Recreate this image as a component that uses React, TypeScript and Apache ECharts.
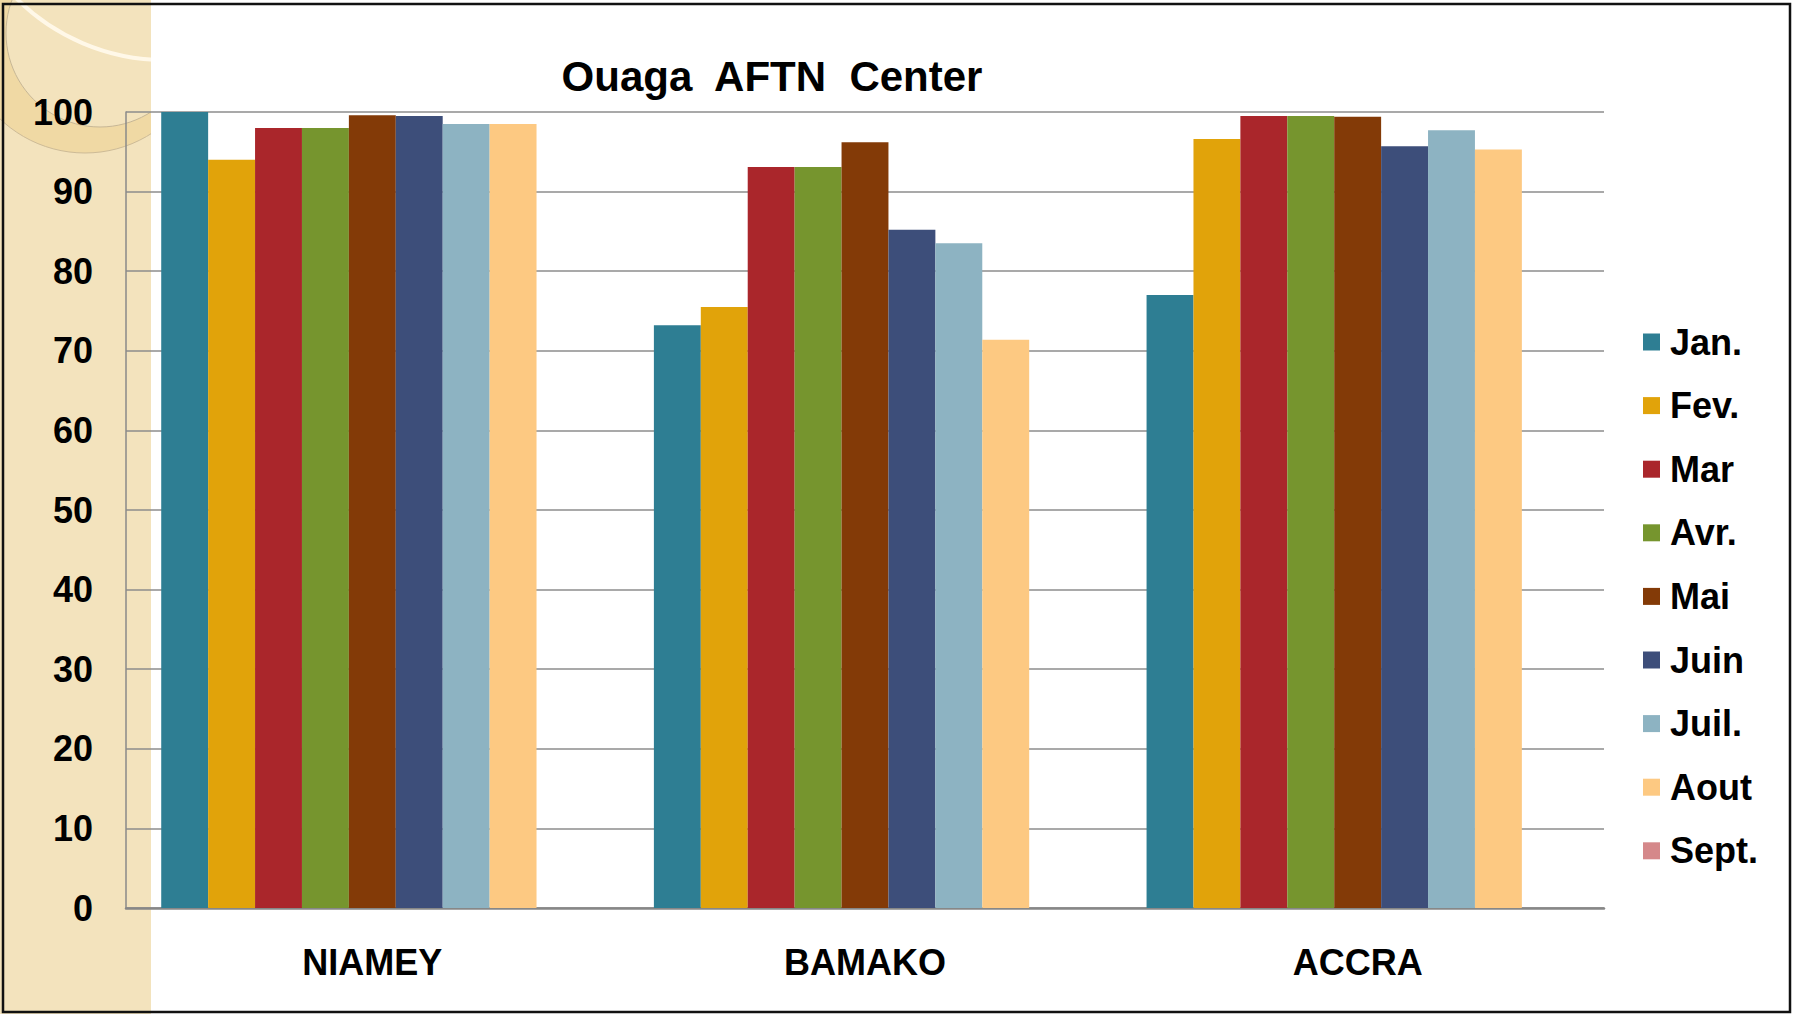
import React, { useEffect, useRef } from 'react';
import * as echarts from 'echarts';

const categories = ['NIAMEY', 'BAMAKO', 'ACCRA'];
const seriesNames = ['Jan.', 'Fev.', 'Mar', 'Avr.', 'Mai', 'Juin', 'Juil.', 'Aout', 'Sept.'];
const jan = [100, 73.2, 77.0];
const fev = [94.0, 75.5, 96.6];
const mar = [98.0, 93.1, 99.5];
const avr = [98.0, 93.1, 99.5];
const mai = [99.6, 96.2, 99.4];
const juin = [99.5, 85.2, 95.7];
const juil = [98.5, 83.5, 97.7];
const aout = [98.5, 71.4, 95.3];
const sept: (number | null)[] = [null, null, null];
const seriesValues = [jan, fev, mar, avr, mai, juin, juil, aout, sept];
const seriesColors = ['#2E7E93', '#E1A30A', '#AA262B', '#76952E', '#833A07', '#3D4E7A', '#8DB3C2', '#FDC982', '#D5888A'];
const yMin = 0;
const yMax = 100;
const yInterval = 10;
const titleText = 'Ouaga  AFTN  Center';

const FONT = '"Liberation Sans", Arial, sans-serif';

export default function App() {
  const ref = useRef<HTMLDivElement>(null);
  useEffect(() => {
    document.body.style.margin = '0';
    const chart = echarts.init(ref.current!, null, { renderer: 'svg' });
    chart.setOption({
      animation: false,
      backgroundColor: '#ffffff',
      title: {
        text: titleText,
        left: 767,
        top: 50,
        textAlign: 'center',
        textStyle: { fontFamily: FONT, fontSize: 42, fontWeight: 'bold', color: '#000' },
      },
      graphic: [
        { type: 'rect', z: -20, silent: true, shape: { x: 0, y: 0, width: 151, height: 1014 }, style: { fill: '#F3E3BD' } },
        { type: 'circle', z: -19, silent: true, shape: { cx: 85, cy: 30, r: 123 }, style: { fill: '#F0D9A4', stroke: '#CDBB97', lineWidth: 1 } },
        { type: 'circle', z: -18, silent: true, shape: { cx: 100, cy: 33, r: 94 }, style: { fill: '#F3E3BD', stroke: '#C7B796', lineWidth: 1 } },
        { type: 'arc', z: -17, silent: true, shape: { cx: 165, cy: -150, r: 210, startAngle: 1.5, endAngle: 2.45, clockwise: true }, style: { stroke: '#FFF8E8', lineWidth: 4, fill: 'none' } },
        { type: 'rect', z: -16, silent: true, shape: { x: 151, y: 0, width: 1642, height: 1014 }, style: { fill: '#ffffff' } },
        { type: 'rect', z: 100, silent: true, shape: { x: 3, y: 4, width: 1787, height: 1008 }, style: { fill: 'none', stroke: '#111', lineWidth: 2.5 } },
      ],
      legend: {
        orient: 'vertical',
        left: 1638,
        top: 319,
        icon: 'rect',
        itemWidth: 17,
        itemHeight: 17,
        itemGap: 27.6,
        data: seriesNames,
        textStyle: { fontFamily: FONT, fontSize: 36, fontWeight: 'bold', color: '#000', lineHeight: 36, padding: [0, 0, 0, 5] },
      },
      grid: { left: 126, right: 189, top: 112, bottom: 106, containLabel: false },
      xAxis: {
        type: 'category',
        data: categories,
        axisLine: { show: true, lineStyle: { color: '#878787', width: 2.5 } },
        axisTick: { show: false },
        axisLabel: { margin: 36, fontFamily: FONT, fontSize: 36, fontWeight: 'bold', color: '#000' },
        splitLine: { show: false },
      },
      yAxis: {
        type: 'value',
        min: yMin,
        max: yMax,
        interval: yInterval,
        axisLine: { show: true, lineStyle: { color: '#8A8A8A', width: 1.5 } },
        axisTick: { show: false },
        axisLabel: { margin: 33, fontFamily: FONT, fontSize: 36, fontWeight: 'bold', color: '#000' },
        splitLine: { show: true, lineStyle: { color: '#8C8C8C', width: 1.5 } },
      },
      series: seriesNames.map((name, i) => ({
        name,
        type: 'bar',
        data: seriesValues[i],
        barGap: '0%',
        barCategoryGap: '14.3%',
        itemStyle: { color: seriesColors[i] },
      })),
    });
    return () => chart.dispose();
  }, []);
  return <div ref={ref} style={{ width: 1793, height: 1014 }} />;
}
